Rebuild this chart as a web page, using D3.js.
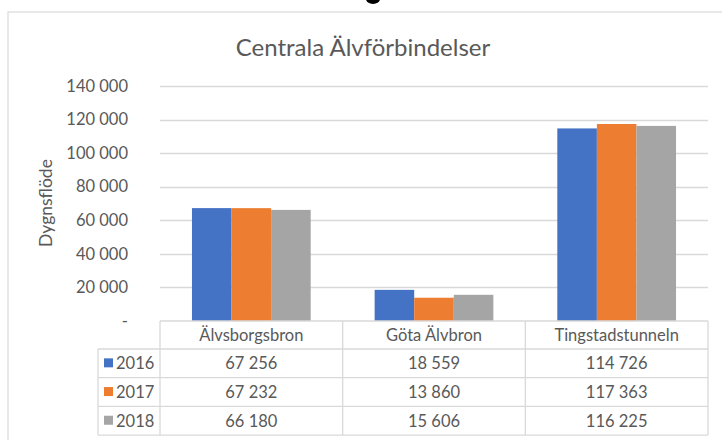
<!DOCTYPE html>
<html><head><meta charset="utf-8">
<script src="https://cdn.jsdelivr.net/npm/d3@7"></script>
<style>
html,body{margin:0;padding:0;background:#fff;}
svg{display:block;font-family:Lato,"Open Sans",sans-serif;}
</style></head>
<body>
<svg id="chart" width="722" height="440"></svg>
<script>
const title = "Centrala Älvförbindelser";
const yAxisLabel = "Dygnsflöde";
const categories = ["Älvsborgsbron", "Göta Älvbron", "Tingstadstunneln"];
const years = ["2016", "2017", "2018"];
const values2016 = [67256, 18559, 114726];
const values2017 = [67232, 13860, 117363];
const values2018 = [66180, 15606, 116225];
const yTicks = [0, 20000, 40000, 60000, 80000, 100000, 120000, 140000];
const colors = ["#4472C4", "#ED7D31", "#A5A5A5"];

(function () {
const series = [values2016, values2017, values2018];
const svg = d3.select("#chart");
const loc = d3.formatLocale({decimal: ",", thousands: "\u00a0", grouping: [3], currency: ["", ""]});
const fmt = loc.format(",d");
const txt = "#595959";
const border = "#D9D9D9";
const fs = 16.5;

// cut-off fragment at very top
svg.append("ellipse").attr("cx", 373).attr("cy", -1).attr("rx", 7).attr("ry", 5).attr("fill", "#000");

// chart frame
svg.append("rect").attr("x", 8).attr("y", 12).attr("width", 730).attr("height", 440)
  .attr("fill", "none").attr("stroke", border).attr("stroke-width", 1.2);

svg.append("text").attr("x", 363).attr("y", 56).attr("text-anchor", "middle")
  .attr("font-size", 24).attr("fill", txt).text(title);

const pLeft = 160, pRight = 708, pTop = 86, pBottom = 321;
const y = d3.scaleLinear().domain([0, 140000]).range([pBottom, pTop]);
const x0 = d3.scaleBand().domain(categories).range([pLeft, pRight]).padding(0);
const bw = x0.bandwidth();
const x1 = d3.scaleBand().domain(years).range([bw * 0.175, bw * 0.825]).padding(0);

// gridlines
svg.append("g").selectAll("line").data(yTicks.filter(d => d > 0)).join("line")
  .attr("x1", pLeft).attr("x2", pRight)
  .attr("y1", d => Math.round(y(d)) + 0.5).attr("y2", d => Math.round(y(d)) + 0.5)
  .attr("stroke", border).attr("stroke-width", 1.3);

// y axis
const yAxis = d3.axisLeft(y).tickValues(yTicks).tickSize(0).tickPadding(0)
  .tickFormat(d => d === 0 ? "-" : fmt(d));
const ga = svg.append("g").attr("transform", `translate(128,0)`).call(yAxis);
ga.select(".domain").remove();
ga.selectAll("text").attr("font-size", fs).attr("fill", txt).attr("font-family", "Lato,sans-serif");

svg.append("text").attr("transform", "translate(52,203) rotate(-90)")
  .attr("text-anchor", "middle").attr("font-size", 17.5).attr("fill", txt).text(yAxisLabel);

// bars
const g = svg.append("g");
categories.forEach((c, ci) => {
  years.forEach((yr, si) => {
    const v = series[si][ci];
    g.append("rect")
      .attr("x", x0(c) + x1(yr)).attr("width", x1.bandwidth())
      .attr("y", y(v)).attr("height", y(0) - y(v))
      .attr("fill", colors[si]);
  });
});

// data table
const rowTop = 321, headH = 28, rowH = 28.7;
const legLeft = 98;
const tb = svg.append("g");
const rowYs = years.map((d, i) => rowTop + headH + i * rowH);
const tableBottom = rowTop + headH + years.length * rowH;
tb.append("line").attr("x1", pLeft).attr("x2", pRight).attr("y1", rowTop).attr("y2", rowTop);
[rowTop + headH, ...rowYs.slice(1), tableBottom].forEach(yy => {
  tb.append("line").attr("x1", legLeft).attr("x2", pRight).attr("y1", yy).attr("y2", yy);
});
tb.append("line").attr("x1", legLeft).attr("x2", legLeft).attr("y1", rowTop + headH).attr("y2", tableBottom);
[pLeft, ...categories.map(c => x0(c) + bw)].forEach(xx => {
  tb.append("line").attr("x1", xx).attr("x2", xx).attr("y1", rowTop).attr("y2", tableBottom);
});
tb.selectAll("line").attr("stroke", border).attr("stroke-width", 1.3);

categories.forEach(c => {
  tb.append("text").attr("x", x0(c) + bw / 2).attr("y", rowTop + headH / 2 + 6)
    .attr("text-anchor", "middle").attr("font-size", fs).attr("fill", txt).text(c);
});
years.forEach((yr, si) => {
  const yy = rowYs[si] + rowH / 2 + 6;
  tb.append("rect").attr("x", 104).attr("y", yy - 11).attr("width", 9).attr("height", 9).attr("fill", colors[si]);
  tb.append("text").attr("x", 116).attr("y", yy).attr("font-size", fs).attr("fill", txt).text(yr);
  categories.forEach((c, ci) => {
    tb.append("text").attr("x", x0(c) + bw / 2).attr("y", yy)
      .attr("text-anchor", "middle").attr("font-size", fs).attr("fill", txt).text(fmt(series[si][ci]));
  });
});
})();
</script>
</body></html>
